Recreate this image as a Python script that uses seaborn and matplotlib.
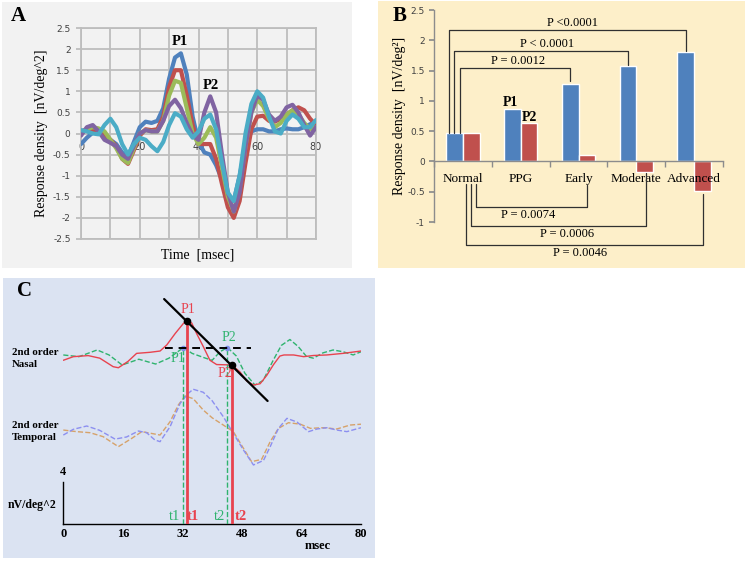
import matplotlib
matplotlib.use("Agg")
import matplotlib.pyplot as plt
import seaborn as sns
import pandas as pd
from matplotlib.patches import Rectangle

# ---------- panel A : mfERG first-order responses ----------
time_a = [0, 2, 4, 6, 8, 10, 12, 14, 16, 18, 20, 22, 24, 26, 28, 30, 32, 34, 36, 38, 40,
          42, 44, 46, 48, 50, 52, 54, 56, 58, 60, 62, 64, 66, 68, 70, 72, 74, 76, 78, 80]
resp_blue = [-0.25, -0.1, 0.02, 0.0, -0.05, -0.15, -0.25, -0.45, -0.55, -0.2, 0.15, 0.28, 0.25, 0.3, 0.6, 1.3, 1.8, 1.9, 1.4, 0.4, -0.2,
             -0.45, -0.5, -0.75, -1.1, -1.5, -1.6, -1.0, -0.3, 0.05, 0.1, 0.1, 0.05, 0.05, 0.1, 0.12, 0.1, 0.1, 0.15, 0.22, 0.28]
resp_red = [0.05, 0.1, 0.08, 0.05, 0.0, -0.15, -0.3, -0.6, -0.72, -0.4, -0.05, 0.1, 0.08, 0.1, 0.4, 1.1, 1.5, 1.5, 0.9, 0.2, -0.25,
            -0.25, -0.25, -0.6, -1.2, -1.75, -2.0, -1.6, -0.7, 0.1, 0.4, 0.42, 0.3, 0.28, 0.35, 0.45, 0.55, 0.62, 0.55, 0.35, 0.2]
resp_green = [0.0, 0.1, 0.15, 0.12, 0.05, -0.15, -0.35, -0.6, -0.7, -0.35, 0.0, 0.08, 0.05, 0.05, 0.3, 0.9, 1.25, 1.2, 0.6, 0.0, -0.25,
              -0.1, 0.15, -0.1, -0.8, -1.5, -1.85, -1.3, -0.3, 0.5, 0.8, 0.65, 0.35, 0.15, 0.25, 0.45, 0.55, 0.45, 0.25, 0.1, 0.15]
resp_purple = [-0.05, 0.15, 0.2, 0.05, -0.15, -0.22, -0.3, -0.5, -0.6, -0.3, 0.0, 0.08, 0.05, 0.05, 0.3, 0.65, 0.8, 0.6, 0.25, -0.05, -0.15,
               0.5, 0.88, 0.5, -0.5, -1.4, -1.85, -1.4, -0.3, 0.5, 0.9, 0.8, 0.45, 0.3, 0.4, 0.62, 0.68, 0.5, 0.2, -0.05, 0.15]
resp_cyan = [0.08, 0.05, 0.0, -0.02, 0.2, 0.35, 0.15, -0.25, -0.5, -0.25, -0.1, -0.15, -0.3, -0.42, -0.2, 0.2, 0.48, 0.4, 0.1, -0.1, 0.05,
             0.35, 0.45, 0.1, -0.7, -1.4, -1.6, -1.0, 0.0, 0.7, 1.0, 0.85, 0.4, 0.05, 0.0, 0.3, 0.45, 0.35, 0.15, 0.15, 0.32]
series_a = ["s1", "s2", "s3", "s4", "s5"]
colors_a = ["#4f81bd", "#c0504d", "#9bbb59", "#8064a2", "#4bacc6"]

# ---------- panel B : P1 / P2 response density ----------
groups = ["Normal", "PPG", "Early", "Moderate", "Advanced"]
p1_density = [0.47, 0.86, 1.28, 1.57, 1.81]
p2_density = [0.47, 0.63, 0.11, -0.17, -0.48]

# ---------- panel C : second-order kernels ----------
nasal_red_t = [0, 2.7, 6.7, 9.8, 13.4, 14.8, 17.4, 19.7, 23.3, 26.0, 27.8, 30.1, 32.3, 33.2, 34.5, 35.8, 37.6, 39.4, 41.2,
               45.3, 47.5, 49.3, 51.1, 52.9, 54.7, 56.5, 58.2, 59.3, 61.9, 64.6, 67.2, 70.8, 75.2, 80]
nasal_red_v = [15.4, 15.74, 15.84, 15.6, 14.8, 14.7, 15.3, 16.05, 16.15, 16.27, 16.84, 17.93, 18.87, 19.1, 18.9, 17.93, 16.7, 15.4, 15.0,
               14.96, 14.3, 13.45, 13.08, 13.2, 14.0, 15.0, 15.8, 15.9, 15.9, 15.74, 15.85, 15.9, 16.05, 16.27]
nasal_green_t = [0, 4.2, 9.1, 12.3, 15.8, 20.3, 24.8, 28.4, 32.3, 34.6, 38.2, 40.0, 42.1, 44.1, 46.5, 48.8, 51.5, 53.7,
                 56.4, 58.6, 60.9, 63.1, 65.4, 67.2, 69.8, 72.5, 75.2, 77.9, 80]
nasal_green_v = [15.9, 15.74, 16.37, 15.9, 14.96, 15.5, 15.05, 15.6, 16.6, 16.05, 15.6, 15.4, 16.2, 16.6, 15.8, 14.18, 13.08, 13.5,
                 15.4, 16.8, 17.35, 16.7, 15.74, 15.6, 16.1, 16.37, 16.2, 15.9, 16.2]
temp_blue_t = [0, 2.7, 6.3, 9.8, 13.9, 17.0, 20.2, 22.4, 24.6, 26.0, 28.7, 31.4, 33.6, 34.9, 37.6, 40.0, 43.0, 45.7, 48.4,
               51.1, 53.8, 55.6, 57.8, 60.1, 62.8, 65.9, 68.2, 70.8, 73.5, 76.2, 80]
temp_blue_v = [8.38, 8.92, 9.23, 8.82, 8.0, 8.2, 8.76, 8.6, 7.92, 7.76, 9.17, 11.36, 12.3, 12.68, 12.4, 11.6, 10.1, 8.54, 6.98,
               5.57, 6.0, 7.29, 9.0, 9.95, 9.6, 8.7, 8.95, 9.07, 8.85, 8.7, 9.07]
temp_orange_t = [0, 3.6, 7.2, 10.7, 14.8, 18.4, 21.1, 24.2, 26.0, 28.7, 30.9, 32.7, 34.9, 37.6, 40.0, 43.0, 45.7, 48.4,
                 50.6, 53.3, 55.6, 57.8, 60.5, 63.7, 66.4, 70.0, 73.5, 77.1, 80]
temp_orange_v = [8.85, 8.7, 8.6, 8.23, 7.29, 8.07, 8.7, 8.5, 8.38, 9.64, 11.2, 12.05, 11.8, 10.73, 10.0, 9.32, 8.7, 7.14,
                 5.88, 6.1, 7.76, 9.0, 9.54, 9.4, 9.01, 9.07, 8.95, 9.32, 9.4]
peak_red = [(33.2, 19.1), (45.3, 14.96)]
peak_green = [(32.3, 16.6), (44.1, 16.6)]
xticks_c = [0, 16, 32, 48, 64, 80]

sns.set_theme(style="white")
plt.rcParams["font.family"] = ["Liberation Serif", "DejaVu Serif"]
plt.rcParams["text.color"] = "black"

W, H = 750, 566
fig = plt.figure(figsize=(7.5, 5.66), dpi=100)


def rect(l, t, r, b):
    return [l / W, 1 - b / H, (r - l) / W, (b - t) / H]


for (l, t, r, b), c in [((2, 2, 352, 268), "#f2f2f2"),
                        ((378, 1, 745, 268), "#fdefc9"),
                        ((3, 278, 375, 558), "#dbe3f2")]:
    fig.patches.append(Rectangle((l / W, 1 - b / H), (r - l) / W, (b - t) / H,
                                 transform=fig.transFigure, facecolor=c, edgecolor="none", zorder=-5))

tick_font = {"family": "DejaVu Sans", "size": 6.5, "color": "#404040"}

# ================= A =================
axA = fig.add_axes(rect(81, 28, 316, 239))
axA.set_facecolor("none")
dfA = pd.DataFrame({
    "t": time_a * 5,
    "v": resp_blue + resp_red + resp_green + resp_purple + resp_cyan,
    "s": [s for s in series_a for _ in time_a],
})
sns.lineplot(data=dfA, x="t", y="v", hue="s", palette=colors_a, linewidth=3,
             legend=False, ax=axA, zorder=3)
axA.set_xlim(0, 80)
axA.set_ylim(-2.5, 2.5)
axA.set_xticks(range(0, 81, 10))
yt = [2.5, 2, 1.5, 1, 0.5, 0, -0.5, -1, -1.5, -2, -2.5]
axA.set_yticks(yt)
axA.set_yticklabels([f"{v:g}" for v in yt], fontdict=tick_font)
axA.tick_params(axis="x", length=0, labelbottom=False)
axA.tick_params(axis="y", direction="out", length=3.5, width=1.3, color="#bdbdbd", left=True, pad=4)
axA.grid(True, color="#bdbdbd", linewidth=1.3)
axA.set_axisbelow(True)
for s in axA.spines.values():
    s.set_color("#bdbdbd")
    s.set_linewidth(1.3)
for t in [0, 20, 40, 60, 80]:
    axA.text(t, -0.32, str(t), ha="center", va="center", zorder=2,
             fontfamily="DejaVu Sans", fontsize=7, color="#404040")
axA.set_xlabel("Time  [msec]", fontsize=10, color="black")
axA.set_ylabel("Response density  [nV/deg^2]", fontsize=10, color="black")
axA.xaxis.label.set_verticalalignment("center")
axA.yaxis.label.set_verticalalignment("center")
axA.xaxis.set_label_coords(0.498, -0.076)
axA.yaxis.set_label_coords(-0.166, 0.5)
axA.text(33.7, 2.17, "P1", ha="center", va="center", fontsize=10.5, fontweight="bold")
axA.text(44.1, 1.14, "P2", ha="center", va="center", fontsize=10.5, fontweight="bold")
fig.text(18 / W, 1 - 16 / H, "A", ha="center", va="center", fontsize=15, fontweight="bold")

# ================= B =================
axB = fig.add_axes(rect(434, 10, 723, 222))
axB.set_facecolor("none")
dfB = pd.DataFrame({
    "group": groups * 2,
    "peak": ["P1"] * 5 + ["P2"] * 5,
    "density": p1_density + p2_density,
})
sns.barplot(data=dfB, x="group", y="density", hue="peak", palette=["#4f81bd", "#c0504d"],
            width=0.58, gap=0, saturation=1, legend=False, ax=axB, zorder=2)
axB.set_axisbelow(False)
axB.set_xlim(-0.5, 4.5)
axB.set_ylim(-1, 2.5)
ytb = [2.5, 2, 1.5, 1, 0.5, 0, -0.5, -1]
axB.set_yticks(ytb)
axB.set_yticklabels([f"{v:g}" for v in ytb], fontdict=tick_font)
axB.spines["bottom"].set_position(("data", 0))
axB.spines["top"].set_visible(False)
axB.spines["right"].set_visible(False)
for s in ["left", "bottom"]:
    axB.spines[s].set_color("#8c8c8c")
    axB.spines[s].set_linewidth(1)
axB.set_xticks(range(5))
axB.set_xticklabels(groups, fontsize=9.5, color="black")
axB.set_xticks([-0.5, 0.5, 1.5, 2.5, 3.5, 4.5], minor=True)
axB.tick_params(axis="x", which="major", length=0, pad=8)
axB.tick_params(axis="x", which="minor", direction="out", length=4, color="#8c8c8c", bottom=True)
axB.tick_params(axis="y", direction="out", length=3.5, color="#8c8c8c", left=True, pad=3)
axB.set_xlabel("")
axB.set_ylabel("Response density  [nV/deg²]", fontsize=10, color="black")
axB.yaxis.label.set_verticalalignment("center")
axB.yaxis.set_label_coords(-0.118, 0.5)

# significance brackets: (x_left, y_left_end, x_right, y_right_end, y_bar, label, x_label, y_label)
brackets_top = [
    (-0.24, 0.47, 3.855, 1.82, 2.17, "P <0.0001", 1.89, 2.19),
    (-0.15, 0.47, 2.855, 1.6, 1.82, "P < 0.0001", 1.455, 1.84),
    (-0.05, 0.47, 1.855, 1.33, 1.54, "P = 0.0012", 0.95, 1.56),
]
brackets_bottom = [
    (0.227, -0.37, 2.145, -0.39, -0.75, "P = 0.0074", 1.13, -0.79),
    (0.14, -0.37, 3.16, -0.19, -1.06, "P = 0.0006", 1.80, -1.10),
    (0.054, -0.37, 4.15, -0.53, -1.38, "P = 0.0046", 2.03, -1.42),
]
for x0, y0, x1, y1, yb, lab, xl, yl in brackets_top + brackets_bottom:
    axB.plot([x0, x0, x1, x1], [y0, yb, yb, y1], color="#303030", linewidth=0.9,
             clip_on=False, zorder=4)
    axB.text(xl, yl, lab, ha="center", va="bottom" if yb > 0 else "top", fontsize=9, clip_on=False)
axB.text(0.815, 0.965, "P1", ha="center", va="center", fontsize=10, fontweight="bold")
axB.text(1.16, 0.72, "P2", ha="center", va="center", fontsize=10, fontweight="bold")
fig.text(400 / W, 1 - 16 / H, "B", ha="center", va="center", fontsize=15, fontweight="bold")

# ================= C =================
axC = fig.add_axes(rect(63.3, 290, 361, 524.3))
axC.set_facecolor("none")
sns.lineplot(x=temp_orange_t, y=temp_orange_v, color="#d6a26a", linewidth=1, linestyle="--", ax=axC)
sns.lineplot(x=temp_blue_t, y=temp_blue_v, color="#8c8ff0", linewidth=1, linestyle="--", ax=axC)
sns.lineplot(x=nasal_green_t, y=nasal_green_v, color="#2fb36e", linewidth=1, linestyle="--", ax=axC)
sns.lineplot(x=nasal_red_t, y=nasal_red_v, color="#e8434f", linewidth=1, ax=axC)
axC.set_xlim(0, 80)
axC.set_ylim(0, 22)

# latency markers
for (tx, ty) in peak_green:
    axC.plot([tx, tx], [0, ty], color="#2fb36e", linewidth=1, linestyle="--", zorder=3)
    axC.plot(tx, ty, "o", color="#7f8fe6", markersize=3, zorder=5)
for (tx, ty) in peak_red:
    axC.plot([tx, tx], [0, ty], color="#e8434f", linewidth=2, zorder=4)
axC.plot([27.1, 54.9], [21.15, 11.58], color="black", linewidth=1.6, zorder=5)
axC.plot([27.3, 50.4], [16.6, 16.6], color="black", linewidth=1.4, linestyle=(0, (4, 3)), zorder=5)
axC.plot([p[0] for p in peak_red], [p[1] for p in peak_red], "o", color="black", markersize=4.5, zorder=6)

axC.text(33.6, 20.2, "P1", color="#e8434f", fontsize=10, ha="center", va="center")
axC.text(30.9, 15.6, "P1", color="#2fb36e", fontsize=10, ha="center", va="center")
axC.text(44.4, 17.5, "P2", color="#2fb36e", fontsize=10, ha="center", va="center")
axC.text(43.5, 14.2, "P2", color="#e8434f", fontsize=10, ha="center", va="center")
axC.text(29.8, 0.7, "t1", color="#2fb36e", fontsize=10.5, ha="center", va="center")
axC.text(34.9, 0.7, "t1", color="#e8434f", fontsize=10.5, fontweight="bold", ha="center", va="center")
axC.text(42.1, 0.7, "t2", color="#2fb36e", fontsize=10.5, ha="center", va="center")
axC.text(47.8, 0.7, "t2", color="#e8434f", fontsize=10.5, fontweight="bold", ha="center", va="center")

for s in ["top", "right"]:
    axC.spines[s].set_visible(False)
axC.spines["left"].set_bounds(0, 4)
for s in ["left", "bottom"]:
    axC.spines[s].set_color("black")
    axC.spines[s].set_linewidth(1)
axC.set_xticks(xticks_c)
axC.set_xticklabels([str(v) for v in xticks_c], fontsize=9, fontweight="bold", color="black")
axC.set_yticks([])
axC.tick_params(axis="x", length=0, pad=3)
axC.text(0, 4.9, "4", fontsize=9, fontweight="bold", ha="center", va="center")
axC.text(-8.4, 1.81, "nV/deg^2", fontsize=8.5, fontweight="bold", ha="center", va="center", clip_on=False)
axC.text(68.5, -2.04, "msec", fontsize=9, fontweight="bold", ha="center", va="center", clip_on=False)
axC.text(-13.8, 15.6, "2nd order\nNasal", fontsize=7.8, fontweight="bold", ha="left", va="center",
         linespacing=1.45, clip_on=False)
axC.text(-13.8, 8.7, "2nd order\nTemporal", fontsize=7.8, fontweight="bold", ha="left", va="center",
         linespacing=1.45, clip_on=False)
fig.text(25 / W, 1 - 291 / H, "C", ha="center", va="center", fontsize=15, fontweight="bold")

fig.savefig("out.png", dpi=100)
